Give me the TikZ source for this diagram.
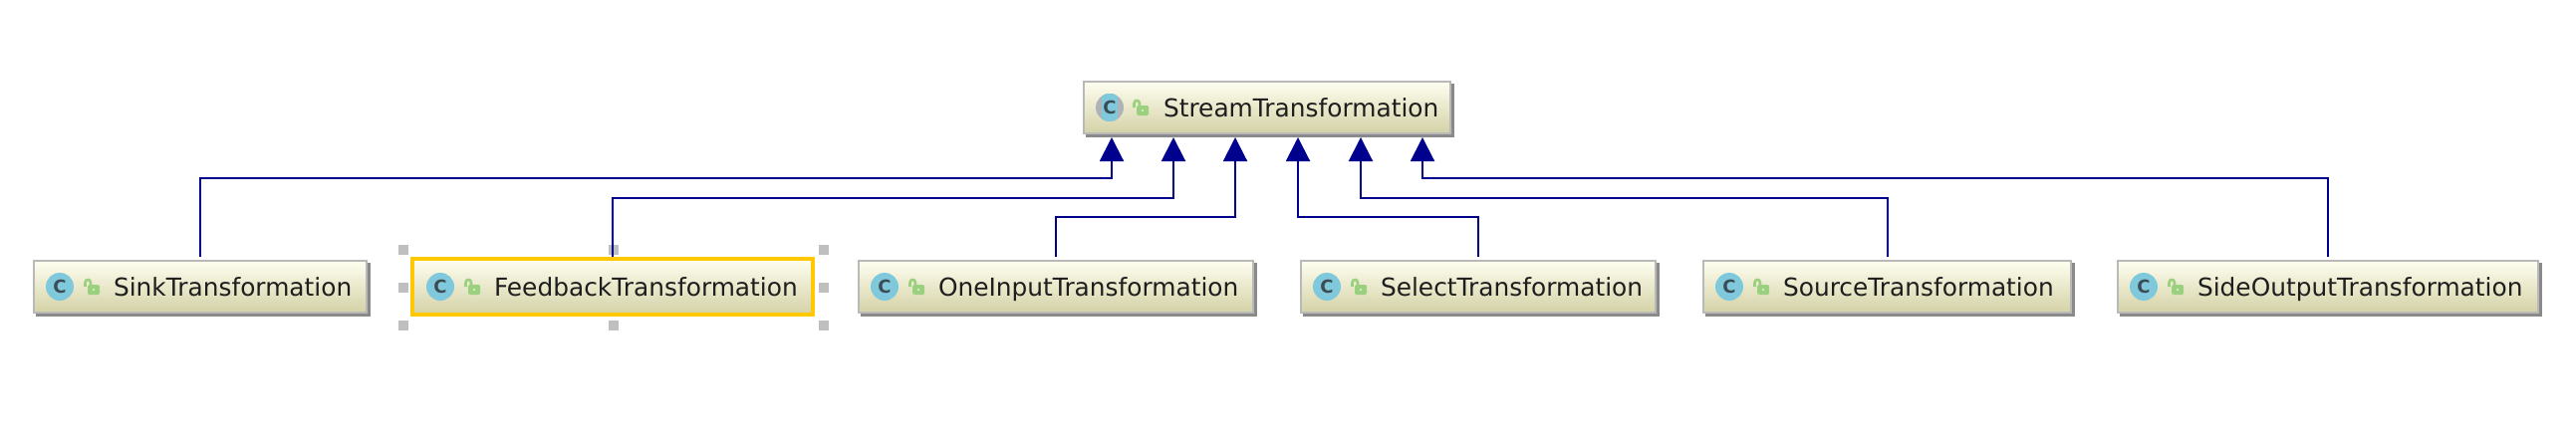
\documentclass[tikz,border=0pt]{standalone}
\usepackage{fontspec}
\setmainfont{DejaVu Sans}
\usetikzlibrary{arrows.meta}
\definecolor{boxtop}{HTML}{FEFEF0}
\definecolor{boxbot}{HTML}{D4D2A6}
\definecolor{boxedge}{HTML}{B9B9B9}
\definecolor{boxshadow}{HTML}{8A8A8A}
\definecolor{conncol}{HTML}{00008F}
\definecolor{selcol}{HTML}{FFC800}
\definecolor{handlecol}{HTML}{BFBFBF}
\definecolor{iconblue}{HTML}{80C8DB}
\definecolor{icongray}{HTML}{ADB3B7}
\definecolor{iconink}{HTML}{3C4C54}
\definecolor{lockgreen}{HTML}{9BD07F}
\definecolor{inkcol}{HTML}{1E1E1E}
\tikzset{
  x=1pt,y=-1pt,
  classbox/.style={rectangle,inner sep=0pt,outer sep=0pt,top color=boxtop,bottom color=boxbot,draw=boxedge,line width=2pt},
  selbox/.style={rectangle,inner sep=0pt,outer sep=0pt,top color=boxtop,bottom color=boxbot,draw=selcol,line width=4pt},
  classlabel/.style={anchor=base west,inner sep=0pt,outer sep=0pt,text=inkcol,font=\fontsize{24.85}{28}\selectfont},
  iconletter/.style={inner sep=0pt,outer sep=0pt,text=iconink,font=\fontsize{18}{20}\bfseries\selectfont},
  handle/.style={rectangle,inner sep=0pt,outer sep=0pt,minimum width=10pt,minimum height=10pt,fill=handlecol},
  conn/.style={draw=conncol,line width=2pt,shorten <=4pt,-{Triangle[length=24pt,width=24pt,fill=conncol]}},
}
\newcommand\lockicon[2]{%
  \begin{scope}[shift={(#1,#2)}]
    \draw[lockgreen,line width=2.6pt] (-8.5,-3) -- (-8.5,-7) .. controls (-8.5,-11) and (-3,-11) .. (-3,-7) -- (-3,-3);
    \fill[lockgreen,rounded corners=1.5pt] (-6,-5) rectangle (6,5);
    \fill[white!55!lockgreen] (-1.2,-0.6) rectangle (1.2,1.2);
  \end{scope}}
\newcommand\classicon[3]{% name x y
  \fill[iconblue] (#2,#3) circle[radius=14];
  \node[iconletter] (#1) at (#2,#3) {C};}
\newcommand\umlclass[5]{% name x1 x2 ycentre text
  \pgfmathsetmacro\cxval{(#2+#3)/2}
  \pgfmathsetmacro\wval{#3-#2}
  \fill[boxshadow] (#2+2,#4-24) rectangle (#3+3.5,#4+29.5);
  \node[classbox,minimum width=\wval pt,minimum height=52pt] (#1) at (\cxval,#4) {};
  \pgfmathsetmacro\ixval{#2+26}
  \classicon{#1icon}{\ixval}{#4}
  \pgfmathsetmacro\lxval{#2+60}
  \pgfmathsetmacro\lyval{#4+3}
  \lockicon{\lxval}{\lyval}
  \pgfmathsetmacro\txval{#2+80}
  \pgfmathsetmacro\tyval{#4+9}
  \node[classlabel] (#1label) at (\txval,\tyval) {#5};}
\begin{document}
\begin{tikzpicture}
\useasboundingbox (0,0) rectangle (2586,436);
% selection handles
\foreach \hx/\hy/\hn in {405/251/a,616/251/b,827/251/c,405/289/d,827/289/e,405/327/f,616/327/g,827/327/h}
  \node[handle] (handle\hn) at (\hx,\hy) {};
% parent
\fill[boxshadow] (1090,84) rectangle (1459.5,137.5);
\node[classbox,minimum width=368pt,minimum height=52pt] (stream) at (1272,108) {};
\begin{scope}
  \clip (1114,108) circle[radius=14];
  \fill[icongray] (1100,94) rectangle (1128,122);
  \fill[iconblue] (1106,94) rectangle (1122,122);
\end{scope}
\node[iconletter] (streamicon) at (1114,108) {C};
\lockicon{1147}{111}
\node[classlabel] (streamlabel) at (1168,117) {StreamTransformation};
% children
\umlclass{sink}{34}{368}{288}{SinkTransformation}
\node[selbox,minimum width=402pt,minimum height=56pt] (feedback) at (615,288) {};
\classicon{feedbackicon}{442}{288}
\lockicon{476}{291}
\node[classlabel] (feedbacklabel) at (496,297) {FeedbackTransformation};
\umlclass{oneinput}{862}{1258}{288}{OneInputTransformation}
\umlclass{select}{1306}{1662}{288}{SelectTransformation}
\umlclass{source}{1710}{2079}{288}{SourceTransformation}
\umlclass{sideoutput}{2126}{2548}{288}{SideOutputTransformation}
% connector ends
\coordinate (t1) at (1116,138); \coordinate (b1) at (1116,179);
\coordinate (t2) at (1178,138); \coordinate (b2) at (1178,199);
\coordinate (t3) at (1240,138); \coordinate (b3) at (1240,218);
\coordinate (t4) at (1303,138); \coordinate (b4) at (1303,218);
\coordinate (t5) at (1366,138); \coordinate (b5) at (1366,199);
\coordinate (t6) at (1428,138); \coordinate (b6) at (1428,179);
\draw[conn] (sink.north) |- (b1) -- (t1);
\draw[conn,shorten <=2pt] (feedback.north) |- (b2) -- (t2);
\draw[conn] (oneinput.north) |- (b3) -- (t3);
\draw[conn] (select.north) |- (b4) -- (t4);
\draw[conn] (source.north) |- (b5) -- (t5);
\draw[conn] (sideoutput.north) |- (b6) -- (t6);
\end{tikzpicture}
\end{document}
